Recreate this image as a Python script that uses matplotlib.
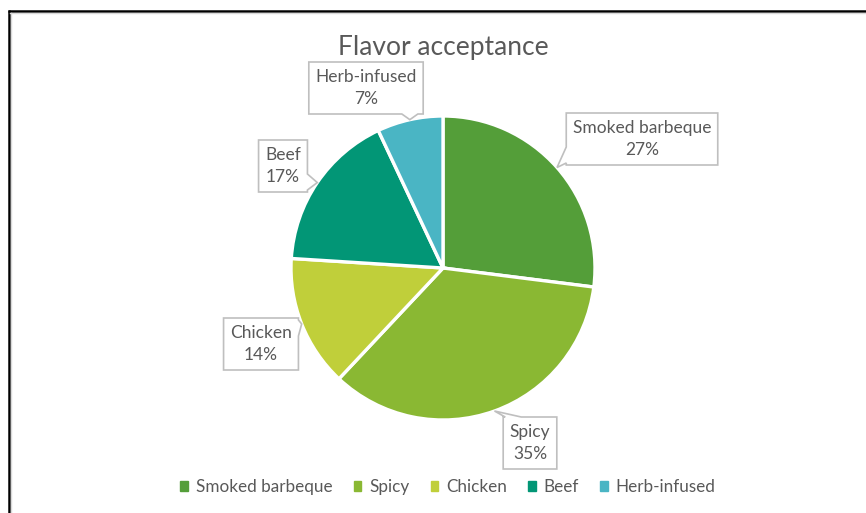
import numpy as np
import matplotlib
matplotlib.use("Agg")
import matplotlib.pyplot as plt
from matplotlib.patches import Polygon
from matplotlib.lines import Line2D

# data
flavors = ["Smoked barbeque", "Spicy", "Chicken", "Beef", "Herb-infused"]
shares = [27, 35, 14, 17, 7]
colors = ["#549E39", "#8AB833", "#C0CF3A", "#029676", "#4AB5C4"]

# layout (pixels): callout box centers and the side the tail leaves from
W, H = 866, 513
CX, CY, R = 443, 268, 152
box_centers = [(642, 139), (530, 443), (261, 344), (283, 166), (366, 88)]
tail_sides = ["left", "top", "right", "right", "bottom"]

TEXT = "#595959"
EDGE = "#BFBFBF"
plt.rcParams["font.family"] = ["Lato", "DejaVu Sans"]

fig = plt.figure(figsize=(W / 100, H / 100), dpi=100)
fig.patch.set_facecolor("white")

# pie axes sized so that radius 1 == R pixels
pie_ax = fig.add_axes([(CX - R) / W, (H - CY - R) / H, 2 * R / W, 2 * R / H])
wedges, _ = pie_ax.pie(
    shares,
    colors=colors,
    startangle=90,
    counterclock=False,
    wedgeprops=dict(edgecolor="white", linewidth=2.4),
)
pie_ax.set_xlim(-1, 1)
pie_ax.set_ylim(-1, 1)
pie_ax.axis("off")

# overlay in pixel coordinates (y down)
ov = fig.add_axes([0, 0, 1, 1], facecolor="none")
ov.set_xlim(0, W)
ov.set_ylim(H, 0)
ov.axis("off")

# frame of the chart area
ov.add_line(Line2D([9, 9], [10, H], color="black", lw=1.8, solid_capstyle="butt"))
ov.add_line(Line2D([8, W], [10.5, 10.5], color="black", lw=1.8, solid_capstyle="butt"))
ov.add_line(Line2D([11, 11], [12.5, H], color="#D9D9D9", lw=1.0))
ov.add_line(Line2D([10, W], [12.5, 12.5], color="#D9D9D9", lw=1.0))

ov.text(443, 47, "Flavor acceptance", ha="center", va="center",
        fontsize=19, color=TEXT)


def callout(x0, y0, x1, y1, side, tip, half=8):
    tx, ty = tip
    if side in ("top", "bottom"):
        p = min(max(tx, x0 + 2 + half), x1 - 2 - half)
        a, b = p - half, p + half
        if side == "top":
            return [(x0, y0), (a, y0), tip, (b, y0), (x1, y0), (x1, y1), (x0, y1)]
        return [(x0, y0), (x1, y0), (x1, y1), (b, y1), tip, (a, y1), (x0, y1)]
    p = min(max(ty, y0 + 2 + half), y1 - 2 - half)
    a, b = p - half, p + half
    if side == "left":
        return [(x0, y0), (x1, y0), (x1, y1), (x0, y1), (x0, b), tip, (x0, a)]
    return [(x0, y0), (x1, y0), (x1, a), tip, (x1, b), (x1, y1), (x0, y1)]


fig.canvas.draw()
renderer = fig.canvas.get_renderer()
cum = 0
for name, val, (bx, by), side in zip(flavors, shares, box_centers, tail_sides):
    mid = np.deg2rad(90 - 360 * (cum + val / 2) / sum(shares))
    cum += val
    tip = (CX + R * np.cos(mid), CY - R * np.sin(mid))
    t = ov.text(bx, by, f"{name}\n{val}%", ha="center", va="center",
                fontsize=12.5, color=TEXT, linespacing=1.5, zorder=5)
    ext = t.get_window_extent(renderer)
    w = ext.width + 13
    h = 52
    poly = callout(bx - w / 2, by - h / 2, bx + w / 2, by + h / 2, side, tip)
    ov.add_patch(Polygon(poly, closed=True, facecolor="white",
                         edgecolor=EDGE, lw=1.2, zorder=4))

handles = [plt.Rectangle((0, 0), 1, 1, color=c) for c in colors]
fig.legend(handles, flavors, loc="center", bbox_to_anchor=(448 / W, 1 - 487 / H),
           ncol=5, frameon=False, fontsize=12.3, handlelength=0.45,
           handleheight=0.45, handletextpad=0.45, columnspacing=1.25,
           labelcolor=TEXT)

fig.savefig("out.png", dpi=100, facecolor="white")
